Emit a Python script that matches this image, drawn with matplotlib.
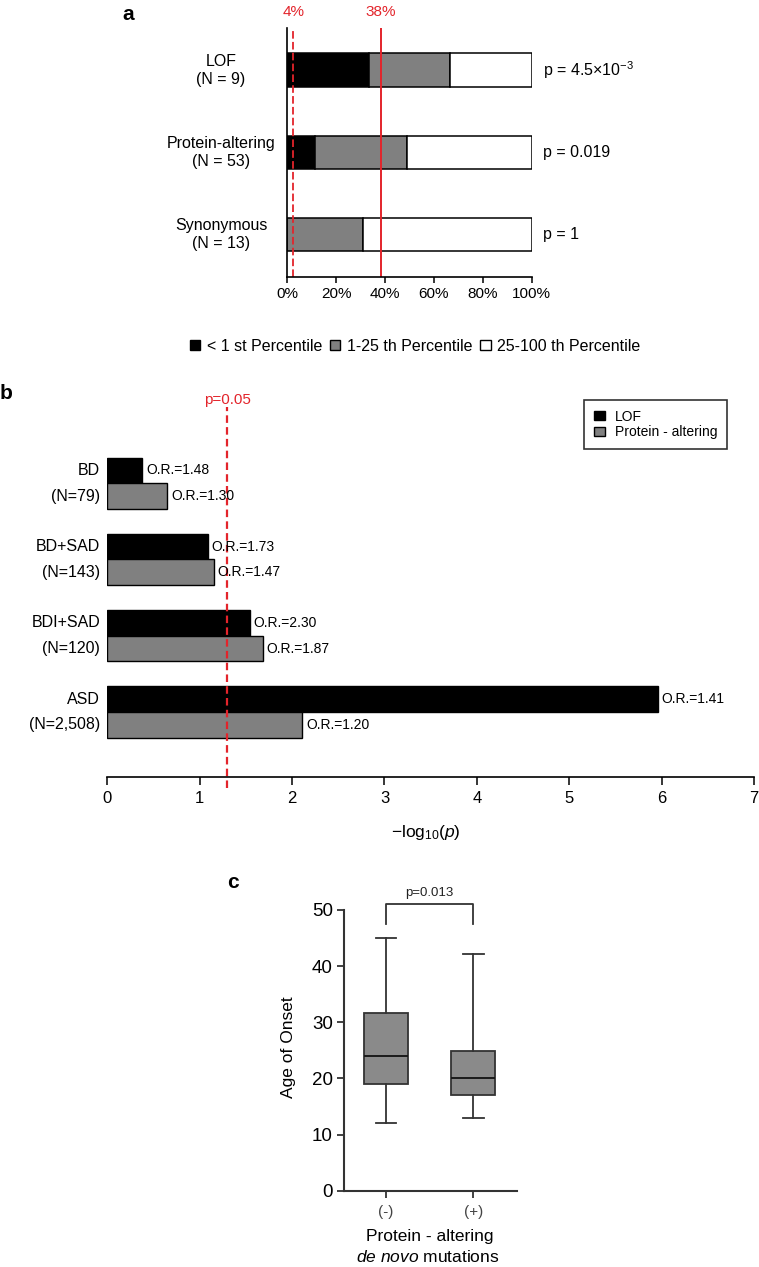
import matplotlib
matplotlib.use("Agg")
import matplotlib.pyplot as plt
from matplotlib.patches import Patch

plt.rcParams['font.family'] = ['Liberation Sans', 'DejaVu Sans']
plt.rcParams['mathtext.fontset'] = 'custom'
plt.rcParams['mathtext.rm'] = 'Liberation Sans'
plt.rcParams['mathtext.it'] = 'Liberation Sans:italic'

W, H = 759, 1267
RED = '#e3242b'
GRAY = '#808080'

# ---- panel a data ----
cats_a = ["LOF\n(N = 9)", "Protein-altering\n(N = 53)", "Synonymous\n(N = 13)"]
pct_lt1 = [33.3, 11.3, 0.0]
pct_1_25 = [33.3, 37.8, 30.8]
pct_25_100 = [33.4, 50.9, 69.2]
pvals_a = [r"p = 4.5×10$^{-3}$", "p = 0.019", "p = 1"]
ref_pct = [2.5, 38.2]
ref_labels = ["4%", "38%"]
xticks_a = [0, 20, 40, 60, 80, 100]

# ---- panel b data ----
grp_names = ["BD", "BD+SAD", "BDI+SAD", "ASD"]
grp_n = ["(N=79)", "(N=143)", "(N=120)", "(N=2,508)"]
lof_b = [0.38, 1.09, 1.54, 5.96]
pa_b = [0.65, 1.15, 1.68, 2.11]
or_lof = ["1.48", "1.73", "2.30", "1.41"]
or_pa = ["1.30", "1.47", "1.87", "1.20"]
sig_p = 1.301  # -log10(0.05)

# ---- panel c data ----
box_labels = ["(-)", "(+)"]
box_q1 = [19.0, 17.0]
box_med = [24.0, 20.0]
box_q3 = [31.6, 24.9]
box_lo = [12.0, 13.0]
box_hi = [45.0, 42.1]


def rect(l, t, r, b):
    return [l / W, 1 - b / H, (r - l) / W, (b - t) / H]


def fx(px):
    return px / W


def fy(py):
    return 1 - py / H


fig = plt.figure(figsize=(W / 100, H / 100), dpi=100)

# ================= panel a =================
axa = fig.add_axes(rect(287.3, 28, 531.7, 277))
ya = list(range(len(cats_a)))
hb = 0.406
left = [0] * len(ya)
for vals, col in [(pct_lt1, 'black'), (pct_1_25, GRAY), (pct_25_100, 'white')]:
    axa.barh(ya, vals, left=left, height=hb, color=col, edgecolor='black', linewidth=1.1)
    left = [l + v for l, v in zip(left, vals)]
axa.set_xlim(0, 100)
axa.set_ylim(2.517, -0.511)
axa.spines['top'].set_visible(False)
axa.spines['right'].set_visible(False)
axa.spines['left'].set_linewidth(1.2)
axa.spines['bottom'].set_linewidth(1.2)
axa.set_yticks([])
axa.set_xticks(xticks_a)
axa.set_xticklabels([f"{t}%" for t in xticks_a], fontsize=11)
axa.tick_params(axis='x', length=4, width=1.1, pad=3)
for i, lab in enumerate(cats_a):
    axa.text(-27.1, i, lab, ha='center', va='center', fontsize=11.5,
             multialignment='center', linespacing=1.25)
    axa.text(104.5, i, pvals_a[i], ha='left', va='center', fontsize=11.5)
axa.axvline(ref_pct[0], color=RED, lw=1.3, dashes=(4.2, 1.8))
axa.axvline(ref_pct[1], color=RED, lw=1.4)
for v, lab in zip(ref_pct, ref_labels):
    axa.text(v, 1.035, lab, transform=axa.get_xaxis_transform(), color=RED,
             ha='center', va='bottom', fontsize=11)

handles_a = [Patch(facecolor=c, edgecolor='black', linewidth=1.0) for c in ['black', GRAY, 'white']]
fig.legend(handles_a, ["< 1 st Percentile", "1-25 th Percentile", "25-100 th Percentile"],
           loc='center', bbox_to_anchor=(fx(415), fy(346)), ncol=3, frameon=False,
           fontsize=11.5, handlelength=0.65, handleheight=0.65, handletextpad=0.4,
           columnspacing=0.5)

fig.text(fx(128), fy(15), "a", fontsize=15, fontweight='bold', ha='center', va='center')

# ================= panel b =================
axb = fig.add_axes(rect(107.3, 407, 754, 777))
hbar = 0.337
yg = list(range(len(grp_names)))
y_lof = [g - hbar / 2 for g in yg]
y_pa = [g + hbar / 2 for g in yg]
axb.barh(y_lof, lof_b, height=hbar, color='black', edgecolor='black', linewidth=1.0, label='LOF')
axb.barh(y_pa, pa_b, height=hbar, color=GRAY, edgecolor='black', linewidth=1.0, label='Protein - altering')
for i in yg:
    axb.text(lof_b[i] + 0.04, y_lof[i], "O.R.=" + or_lof[i], ha='left', va='center', fontsize=10)
    axb.text(pa_b[i] + 0.04, y_pa[i], "O.R.=" + or_pa[i], ha='left', va='center', fontsize=10)
    axb.text(-0.076, y_lof[i], grp_names[i], ha='right', va='center', fontsize=11.5)
    axb.text(-0.076, y_pa[i], grp_n[i], ha='right', va='center', fontsize=11.5)
axb.set_xlim(0, 7)
axb.set_ylim(3.853, -1.0)
for s in ['top', 'right', 'left']:
    axb.spines[s].set_visible(False)
axb.spines['bottom'].set_linewidth(1.2)
axb.set_yticks([])
axb.set_xticks(range(8))
axb.tick_params(axis='x', length=6, width=1.1, pad=4, labelsize=12)
axb.axvline(sig_p, ymin=-0.03, ymax=1.0, clip_on=False, color=RED, lw=1.6, dashes=(3.4, 1.9))
axb.text(sig_p, 1.0, "p=0.05", transform=axb.get_xaxis_transform(), color=RED,
         ha='center', va='bottom', fontsize=11)
fig.text(fx(426), fy(832), r"$-\mathrm{log}_{10}(\mathit{p})$", ha='center', va='center', fontsize=12.5)
leg = axb.legend(loc='upper left', bbox_to_anchor=(fx(584), fy(400)), bbox_transform=fig.transFigure,
                 borderaxespad=0, fancybox=False, edgecolor='black', fontsize=10,
                 handlelength=0.8, handleheight=0.6, handletextpad=0.7, labelspacing=0.1,
                 borderpad=0.7)
leg.get_frame().set_linewidth(1.2)

fig.text(fx(6), fy(394), "b", fontsize=15, fontweight='bold', ha='center', va='center')

# ================= panel c =================
axc = fig.add_axes(rect(344, 910, 516.7, 1190.7))
stats = []
for i in range(len(box_labels)):
    stats.append(dict(med=box_med[i], q1=box_q1[i], q3=box_q3[i],
                      whislo=box_lo[i], whishi=box_hi[i], label=box_labels[i]))
LC = '#333333'
axc.bxp(stats, positions=[1, 2], widths=0.5, patch_artist=True, showfliers=False,
        capwidths=0.24,
        boxprops=dict(facecolor='#8a8a8a', edgecolor=LC, linewidth=1.3),
        medianprops=dict(color='#1a1a1a', linewidth=1.4),
        whiskerprops=dict(color=LC, linewidth=1.3),
        capprops=dict(color=LC, linewidth=1.3))
axc.set_xlim(0.519, 2.497)
axc.set_ylim(0, 50)
axc.set_yticks([0, 10, 20, 30, 40, 50])
axc.spines['top'].set_visible(False)
axc.spines['right'].set_visible(False)
for s in ['left', 'bottom']:
    axc.spines[s].set_linewidth(1.5)
    axc.spines[s].set_color(LC)
axc.tick_params(axis='y', length=5, width=1.3, color=LC, labelsize=13.5, pad=3)
axc.tick_params(axis='x', length=5, width=1.3, color=LC, labelsize=11, pad=5, labelcolor='#444444')
axc.plot([1, 1, 2, 2], [47.5, 51.1, 51.1, 47.5], color=LC, lw=1.3, clip_on=False)
axc.text(1.5, 52.0, "p=0.013", ha='center', va='bottom', fontsize=9.5, color='#222222')
fig.text(fx(288), fy(1047), "Age of Onset", rotation=90, ha='center', va='center', fontsize=12.5)
fig.text(fx(430), fy(1237), "Protein - altering", ha='center', va='center', fontsize=12.5)
fig.text(fx(428), fy(1257), r"$\mathit{de\ novo}$ mutations", ha='center', va='center', fontsize=12.5)

fig.text(fx(233), fy(882), "c", fontsize=15, fontweight='bold', ha='center', va='center')

fig.savefig("out.png", dpi=100)
